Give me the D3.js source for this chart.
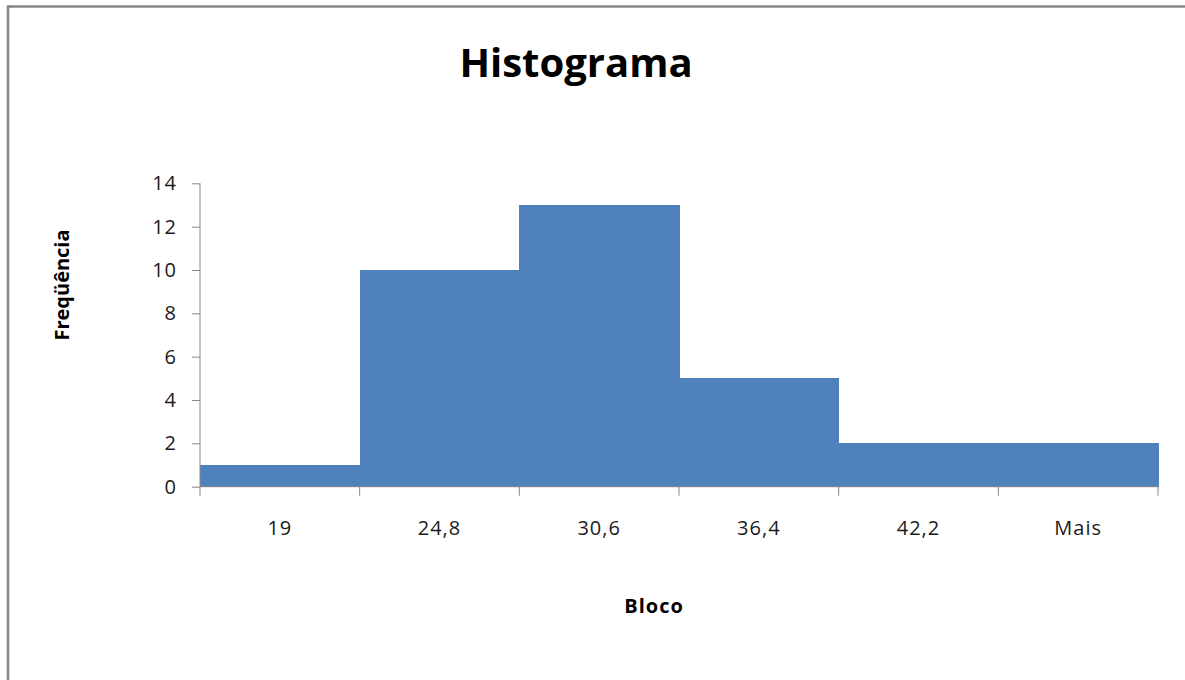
<!DOCTYPE html>
<html><head><meta charset="utf-8">
<script src="https://cdn.jsdelivr.net/npm/d3@7"></script>
<style>body{margin:0;background:#fff}svg{display:block}</style>
</head><body>
<svg id="c" width="1185" height="680"></svg>
<script>
const categories = ["19","24,8","30,6","36,4","42,2","Mais"];
const frequencies = [1,10,13,5,2,2];
const yTicks = [0,2,4,6,8,10,12,14];
const titleText = "Histograma";
const xTitle = "Bloco";
const yTitle = "Freqüência";

const svg = d3.select("#c");
const font = "'Open Sans', sans-serif";
svg.append("rect").attr("x",8).attr("y",6.5).attr("width",1200).attr("height",700)
  .attr("fill","#fff").attr("stroke","#868686").attr("stroke-width",2.5);

const L=200, R=1158, T=183.3, B=486.7;
const x = d3.scaleBand().domain(categories).range([L,R]).padding(0);
const y = d3.scaleLinear().domain([0,14]).range([B,T]);

svg.append("g").attr("shape-rendering","crispEdges").selectAll("rect").data(frequencies).join("rect")
  .attr("x",(d,i)=>x(categories[i])).attr("width",x.bandwidth()+0.6)
  .attr("y",d=>y(d)).attr("height",d=>B-y(d)).attr("fill","#4F81BD");

const ya = svg.append("g").attr("transform",`translate(${L},0)`)
  .call(d3.axisLeft(y).tickValues(yTicks).tickSize(8).tickPadding(15).tickFormat(d3.format("d")));
ya.select(".domain").attr("stroke","#868686").attr("d",`M0,${T}V${B}`);
ya.selectAll(".tick line").attr("stroke","#868686");
ya.selectAll("text").attr("font-family",font).attr("font-size",20).attr("letter-spacing","1px").attr("fill","#1a1a1a");

const xa = svg.append("g").attr("transform",`translate(0,${B})`);
xa.append("line").attr("x1",L).attr("x2",R).attr("stroke","#868686");
const bounds = categories.map(c=>x(c)).concat([R]);
xa.selectAll("line.tk").data(bounds).join("line").attr("class","tk")
  .attr("x1",d=>d).attr("x2",d=>d).attr("y1",0).attr("y2",9).attr("stroke","#868686");
xa.selectAll("text").data(categories).join("text")
  .attr("x",d=>x(d)+x.bandwidth()/2).attr("y",48).attr("text-anchor","middle")
  .attr("font-family",font).attr("font-size",20).attr("letter-spacing","1px").attr("fill","#1a1a1a").text(d=>d);

svg.append("text").attr("x",576).attr("y",77).attr("text-anchor","middle")
  .attr("font-family",font).attr("font-weight","bold").attr("font-size",40).attr("fill","#000").text(titleText);
svg.append("text").attr("x",654).attr("y",613).attr("text-anchor","middle")
  .attr("font-family",font).attr("font-weight","bold").attr("font-size",20).attr("letter-spacing","1px").attr("fill","#000").text(xTitle);
svg.append("text").attr("transform","translate(69,285) rotate(-90)").attr("text-anchor","middle")
  .attr("font-family",font).attr("font-weight","bold").attr("font-size",20).attr("fill","#000").text(yTitle);
</script>
</body></html>
